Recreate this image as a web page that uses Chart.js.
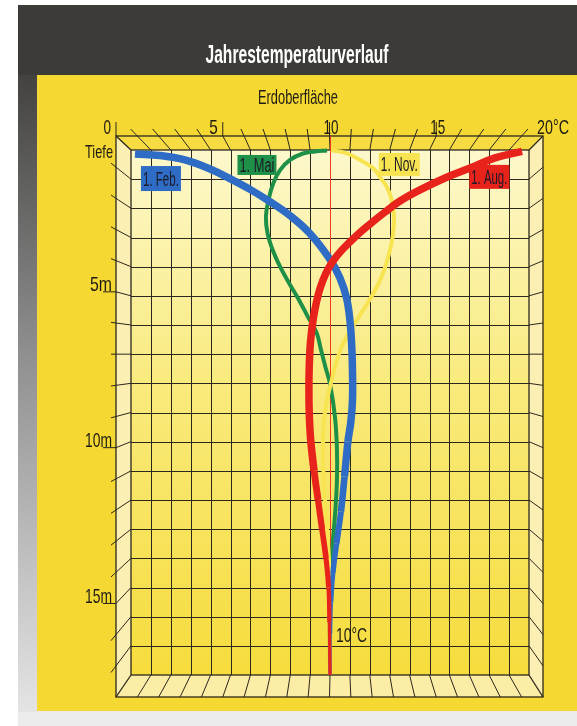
<!DOCTYPE html>
<html lang="de">
  <head>
    <meta charset="utf-8" />
    <title>Jahrestemperaturverlauf</title>
    <style>
      html, body { margin: 0; padding: 0; background: #fff; }
      canvas { display: block; }
    </style>
  </head>
  <body>
    <canvas id="canvas" width="577" height="726"></canvas>

    <script src="https://cdn.jsdelivr.net/npm/chart.js"></script>

    <script>
      // temperature (°C) against depth (m)
      const augTemp  = [19.65, 18.29, 17.04, 15.78, 14.52, 13.52, 12.76, 12.01, 11.26, 10.6, 10.15, 9.8, 9.52, 9.32, 9.15, 9.02, 8.96, 8.94, 8.96, 9.03, 9.2, 9.4, 9.6, 9.8, 9.93, 9.97, 10.0];
      const augDepth = [0.05, 0.27, 0.62, 0.96, 1.37, 1.75, 2.13, 2.54, 2.98, 3.43, 3.81, 4.22, 4.7, 5.21, 5.83, 6.58, 7.37, 8.23, 9.09, 9.94, 11.0, 12.0, 13.0, 14.0, 15.0, 16.2, 18.0];

      const febTemp  = [0.2, 1.46, 2.71, 3.97, 4.97, 5.98, 6.98, 7.99, 8.99, 10.0, 10.5, 10.83, 11.0, 11.09, 11.13, 11.13, 11.05, 10.9, 10.73, 10.55, 10.33, 10.15, 10.05, 10.01, 10.0];
      const febDepth = [0.14, 0.19, 0.34, 0.65, 0.98, 1.35, 1.77, 2.25, 2.86, 3.75, 4.39, 5.07, 5.83, 6.69, 7.54, 8.57, 9.3, 10.0, 11.2, 12.4, 13.5, 14.5, 15.5, 16.6, 18.0];

      const novTemp  = [10.05, 10.75, 11.51, 12.16, 12.51, 12.85, 13.1, 13.22, 13.15, 12.93, 12.6, 12.18, 11.67, 11.1, 10.6, 10.28, 10.05, 9.85, 9.7, 9.65, 9.67, 9.75, 9.85, 9.95, 10.0, 10.0];
      const novDepth = [0.01, 0.09, 0.34, 0.62, 0.93, 1.26, 1.71, 2.29, 2.97, 3.66, 4.34, 4.91, 5.49, 6.1, 6.72, 7.37, 7.99, 8.57, 9.26, 9.94, 10.97, 12.0, 13.03, 14.06, 15.08, 18.0];

      const maiTemp  = [9.85, 9.25, 8.64, 7.99, 7.49, 7.15, 6.91, 6.78, 6.86, 7.12, 7.49, 7.94, 8.44, 8.89, 9.33, 9.55, 9.77, 10.0, 10.25, 10.35, 10.35, 10.27, 10.15, 10.05, 10.0, 10.0];
      const maiDepth = [0.02, 0.05, 0.12, 0.34, 0.69, 1.14, 1.71, 2.29, 2.85, 3.43, 4.0, 4.56, 5.14, 5.72, 6.27, 6.86, 7.44, 8.02, 9.15, 10.28, 11.3, 12.34, 13.37, 14.4, 15.4, 18.0];

      const seriesLabels = ["1. Aug.", "1. Feb.", "1. Nov.", "1. Mai"];
      const tempTicks = [0, 5, 10, 15, 20];
      const tempTickLabels = ["0", "5", "10", "15", "20°C"];
      const depthTicks = [5, 10, 15];
      const depthTickLabels = ["5m", "10m", "15m"];
      const groundTemp = 10;

      const FONT = '"Liberation Sans", Arial, sans-serif';
      const INK = "#2b271c";
      const TEXT = "#1e1b14";

      // the original uses a condensed face: squeeze each text to its width
      function sayFit(ctx, s, x, y, size, color, align, width, bold) {
        ctx.save();
        ctx.font = (bold ? "bold " : "") + size + "px " + FONT;
        const w = ctx.measureText(s).width;
        ctx.fillStyle = color;
        ctx.textAlign = align;
        ctx.textBaseline = "alphabetic";
        ctx.translate(x, y);
        ctx.scale(width / w, 1);
        ctx.fillText(s, 0, 0);
        ctx.restore();
      }

      function poly(ctx, pts, fill) {
        ctx.beginPath();
        ctx.moveTo(pts[0][0], pts[0][1]);
        for (let i = 1; i < pts.length; i++) ctx.lineTo(pts[i][0], pts[i][1]);
        ctx.closePath();
        ctx.fillStyle = fill;
        ctx.fill();
      }

      function seg(ctx, x1, y1, x2, y2) {
        ctx.beginPath();
        ctx.moveTo(x1, y1);
        ctx.lineTo(x2, y2);
        ctx.stroke();
      }

      function geometry(chart) {
        const a = chart.chartArea, X = chart.scales.x, Y = chart.scales.y;
        const OL = a.left - 15, OT = a.top - 14, OR = a.right + 14, OB = a.bottom + 22;
        const xi = (t) => X.getPixelForValue(t);
        const yi = (d) => Y.getPixelForValue(d);
        const xo = (t) => OL + ((xi(t) - a.left) * (OR - OL)) / (a.right - a.left);
        const yo = (d) => OT + ((yi(d) - a.top) * (OB - OT)) / (a.bottom - a.top);
        return { a, OL, OT, OR, OB, xi, yi, xo, yo };
      }

      const boxPlugin = {
        id: "box",
        beforeDatasetsDraw(chart) {
          const ctx = chart.ctx;
          const { a, OL, OT, OR, OB, xi, yi, xo, yo } = geometry(chart);
          const W = chart.width, H = chart.height;

          // page, header and panel
          ctx.save();
          ctx.fillStyle = "#ffffff";
          ctx.fillRect(0, 0, W, H);
          ctx.fillStyle = "#ebebeb";
          ctx.fillRect(18, 700, W - 18, H - 700);
          const strip = ctx.createLinearGradient(0, 60, 0, 712);
          strip.addColorStop(0, "#3f3e3c");
          strip.addColorStop(0.45, "#8f8f8f");
          strip.addColorStop(1, "#e4e4e4");
          ctx.fillStyle = strip;
          ctx.fillRect(18, 60, 19, 652);
          ctx.fillStyle = "#3c3b38";
          ctx.fillRect(18, 5, W - 18, 70);
          ctx.fillStyle = "#f5d832";
          ctx.fillRect(37, 75, W - 37, 636);

          // walls of the box
          poly(ctx, [[OL, OT], [OR, OT], [a.right, a.top], [a.left, a.top]], "#f6dc42");
          poly(ctx, [[OL, OT], [a.left, a.top], [a.left, a.bottom], [OL, OB]], "#fcefb3");
          poly(ctx, [[OR, OT], [a.right, a.top], [a.right, a.bottom], [OR, OB]], "#fcefb3");
          poly(ctx, [[OL, OB], [a.left, a.bottom], [a.right, a.bottom], [OR, OB]], "#fbeca6");
          const back = ctx.createLinearGradient(0, a.top, 0, a.bottom);
          back.addColorStop(0, "#fdf8cc");
          back.addColorStop(0.45, "#f9ea7c");
          back.addColorStop(1, "#f6dc3c");
          ctx.fillStyle = back;
          ctx.fillRect(a.left, a.top, a.right - a.left, a.bottom - a.top);

          ctx.strokeStyle = INK;
          ctx.lineWidth = 1;

          // back grid, one line per degree and per metre
          for (let t = 1; t < 20; t++) {
            if (t === groundTemp) continue;
            seg(ctx, Math.round(xi(t)) + 0.5, a.top, Math.round(xi(t)) + 0.5, a.bottom);
          }
          for (let d = 1; d < 18; d++) {
            seg(ctx, a.left, Math.round(yi(d)) + 0.5, a.right, Math.round(yi(d)) + 0.5);
          }

          // perspective lines on the walls
          for (let t = 1; t < 20; t++) {
            const x0 = xo(t), x1 = xi(t);
            const k = (x0 - x1) / (OT - a.top);
            if (t % 5 === 0) {
              seg(ctx, x0, OT - 14, x0, OT);
              seg(ctx, x0, OT, x1, a.top);
            } else {
              seg(ctx, x0 + k * -7, OT - 7, x1, a.top);
            }
            seg(ctx, x1, a.bottom, xo(t), OB);
          }
          for (let d = 1; d < 18; d++) {
            const y0 = yo(d), y1 = yi(d);
            const k = (y0 - y1) / (OL - a.left);
            if (depthTicks.includes(d)) {
              seg(ctx, OL - 13, y0, OL, y0);
              seg(ctx, OL, y0, a.left, y1);
            } else {
              seg(ctx, OL - 5, y0 + k * -5, a.left, y1);
            }
            seg(ctx, a.right, y1, OR, y0);
          }
          seg(ctx, OL, OT - 14, OL, OT);

          // frames
          ctx.lineWidth = 1.3;
          ctx.strokeRect(a.left, a.top, a.right - a.left, a.bottom - a.top);
          ctx.strokeRect(OL, OT, OR - OL, OB - OT);
          seg(ctx, OL, OT, a.left, a.top);
          seg(ctx, OR, OT, a.right, a.top);
          seg(ctx, OL, OB, a.left, a.bottom);
          seg(ctx, OR, OB, a.right, a.bottom);

          // 10 °C reference
          ctx.strokeStyle = "#ee3a1e";
          ctx.lineWidth = 1;
          const xg = Math.round(xi(groundTemp)) + 0.5;
          seg(ctx, xg, OT, xg, a.bottom);

          // texts
          sayFit(ctx, "Jahrestemperaturverlauf", 297, 63, 25, "#ffffff", "center", 183, true);
          sayFit(ctx, "Erdoberfläche", 298, 104, 20, TEXT, "center", 80, false);
          const tickW = [7.5, 8.5, 15, 15, 32];
          tempTicks.forEach((t, i) => {
            const s = tempTickLabels[i];
            if (i < 2) sayFit(ctx, s, xo(t) - 5, 133.5, 21, TEXT, "right", tickW[i]);
            else sayFit(ctx, s, xo(t) - 6, 133.5, 21, TEXT, "left", tickW[i]);
          });
          sayFit(ctx, "Tiefe", 113, 158, 19, TEXT, "right", 28);
          const depthW = [22, 27, 27];
          depthTicks.forEach((d, i) => {
            sayFit(ctx, depthTickLabels[i], 112, yo(d) - 1, 21, TEXT, "right", depthW[i]);
          });
          ctx.restore();
        },
        afterDatasetsDraw(chart) {
          const ctx = chart.ctx;
          const { xi, yi } = geometry(chart);
          // label tags: anchor (°C, m), width, height
          const tags = [
            [17.0, 0.51, 40, 24],
            [0.5, 0.55, 40, 25],
            [12.45, 0.1, 41, 23],
            [5.35, 0.17, 39, 20],
          ];
          ctx.save();
          chart.data.datasets.forEach((ds, i) => {
            if (!tags[i]) return;
            const [t, d, w, h] = tags[i];
            const x = xi(t), y = yi(d);
            ctx.fillStyle = ds.borderColor;
            ctx.fillRect(x, y, w, h);
            sayFit(ctx, ds.label, x + w / 2, y + h / 2 + 7, 20, "#1b1a26", "center", w - 4, false);
          });
          sayFit(ctx, groundTemp + "°C", 336, 642, 21, TEXT, "left", 31);
          ctx.restore();
        },
      };

      function series(temp, depth) {
        return temp.map((t, i) => ({ x: t, y: depth[i] }));
      }

      // thick lines taper gently towards the bottom like in the drawing
      function taper(depth, top) {
        return (c) => {
          const d = depth[c.p1DataIndex];
          if (d <= 11) return top;
          return Math.max(3, top - (d - 11) * 0.6);
        };
      }

      const ctx = document.getElementById("canvas");

      new Chart(ctx, {
        type: "scatter",
        data: {
          datasets: [
            { label: seriesLabels[0], data: series(augTemp, augDepth), borderColor: "#e8231c", borderWidth: 7.5, segment: { borderWidth: taper(augDepth, 7.5) } },
            { label: seriesLabels[1], data: series(febTemp, febDepth), borderColor: "#2f6cc6", borderWidth: 7.5, segment: { borderWidth: taper(febDepth, 7.5) } },
            { label: seriesLabels[2], data: series(novTemp, novDepth), borderColor: "#f7e450", borderWidth: 4 },
            { label: seriesLabels[3], data: series(maiTemp, maiDepth), borderColor: "#1f9048", borderWidth: 4 },
          ],
        },
        options: {
          responsive: false,
          animation: false,
          showLine: true,
          layout: { padding: { left: 131, top: 150, right: 48, bottom: 51 } },
          elements: {
            point: { radius: 0, hoverRadius: 0 },
            line: { tension: 0.4, borderCapStyle: "butt", borderJoinStyle: "round", fill: false },
          },
          datasets: { scatter: { clip: false } },
          scales: {
            x: { type: "linear", min: 0, max: 20, display: false },
            y: { type: "linear", min: 0, max: 18, reverse: true, display: false },
          },
          plugins: { legend: { display: false }, tooltip: { enabled: false } },
        },
        plugins: [boxPlugin],
      });
    </script>
  </body>
</html>
